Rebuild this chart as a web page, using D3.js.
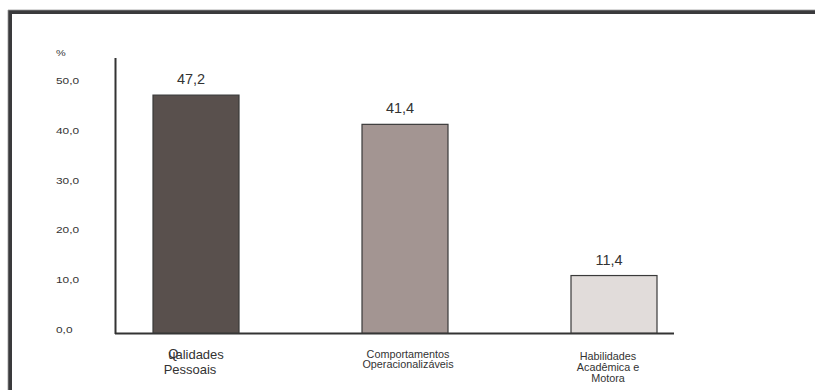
<!DOCTYPE html>
<html><head><meta charset="utf-8">
<script src="https://cdn.jsdelivr.net/npm/d3@7/dist/d3.min.js"></script>
<style>html,body{margin:0;padding:0;background:#fff;}svg{display:block;}</style>
</head><body>
<script>
const categories = ["Qualidades Pessoais", "Comportamentos Operacionalizáveis", "Habilidades Acadêmica e Motora"];
const categoryLines = [["Qualidades", "Pessoais"], ["Comportamentos", "Operacionalizáveis"], ["Habilidades", "Acadêmica e", "Motora"]];
const values = [47.2, 41.4, 11.4];
const valueLabels = ["47,2", "41,4", "11,4"];
const tickValues = [0, 10, 20, 30, 40, 50];
const tickLabels = ["0,0", "10,0", "20,0", "30,0", "40,0", "50,0"];
const barColors = ["#59504d", "#a39592", "#e1dcda"];

const W = 815, H = 390;
const ff = "Liberation Sans, Arial, sans-serif";
const svg = d3.select("body").append("svg").attr("width", W).attr("height", H);
svg.append("rect").attr("width", W).attr("height", H).attr("fill", "#fff");

// frame
svg.append("path").attr("d", "M10,390 V12 H815").attr("fill", "none").attr("stroke", "#3a3a3c").attr("stroke-width", 4);
svg.append("path").attr("d", "M8,390 V10 H815").attr("fill", "none").attr("stroke", "#9a9a9a").attr("stroke-width", 0.8);

const x = d3.scalePoint().domain(categories).range([196, 614]);
const y = d3.scaleLinear().domain([0, 50]).range([333, 81]);
const barW = 86;

// axes lines
svg.append("line").attr("x1", 115.5).attr("x2", 115.5).attr("y1", 58).attr("y2", y(0) + 1).attr("stroke", "#333").attr("stroke-width", 2);
svg.append("line").attr("x1", 115).attr("x2", 674).attr("y1", y(0) + 0.5).attr("y2", y(0) + 0.5).attr("stroke", "#333").attr("stroke-width", 2);

// tick labels
svg.selectAll("text.tick").data(tickValues).join("text")
  .attr("class", "tick")
  .attr("transform", d => `translate(56,${y(d) + 3 - 3 * (1 - d / 50)}) scale(1.25,1)`)
  .attr("font-family", ff)
  .attr("font-size", 9.5)
  .attr("fill", "#333")
  .text((d, i) => tickLabels[i]);
svg.append("text").attr("transform", "translate(56,56) scale(1.15,1)").attr("font-family", ff)
  .attr("font-size", 9.5).attr("fill", "#333").text("%");

// bars
svg.selectAll("rect.bar").data(values).join("rect")
  .attr("class", "bar")
  .attr("x", (d, i) => x(categories[i]) - barW / 2)
  .attr("width", barW)
  .attr("y", d => y(d))
  .attr("height", d => y(0) - y(d))
  .attr("fill", (d, i) => barColors[i])
  .attr("stroke", "#3a3a3a").attr("stroke-width", 1.2);

// value labels
svg.selectAll("text.val").data(values).join("text")
  .attr("class", "val")
  .attr("x", (d, i) => x(categories[i]) - 5)
  .attr("y", d => y(d) - 11)
  .attr("text-anchor", "middle")
  .attr("font-family", ff)
  .attr("font-size", 14.5).attr("fill", "#333")
  .text((d, i) => valueLabels[i]);

// category labels
// first category (with overlapping glyphs as in the original)
{
  const cx = x(categories[0]);
  const first = categoryLines[0][0];
  const rest = svg.append("text").attr("x", cx).attr("y", 359).attr("text-anchor", "middle")
    .attr("font-family", ff).attr("font-size", 13).attr("fill", "#333").text(first.slice(1));
  const bb = rest.node().getBBox();
  svg.append("text").attr("x", bb.x).attr("y", 358).attr("font-family", ff).attr("font-size", 13)
    .attr("fill", "#333").text(first[0]);
  svg.append("text").attr("x", cx - 6).attr("y", 374).attr("text-anchor", "middle")
    .attr("font-family", ff).attr("font-size", 13).attr("fill", "#333").text(categoryLines[0][1]);
}
// other categories
const catOpts = [null, {dx: 3, y0: 358, lh: 10, fs: 10.8}, {dx: -6, y0: 360, lh: 11, fs: 10.8}];
[1, 2].forEach(i => {
  const o = catOpts[i];
  svg.append("g").selectAll("text").data(categoryLines[i]).join("text")
    .attr("x", x(categories[i]) + o.dx)
    .attr("y", (d, j) => o.y0 + j * o.lh)
    .attr("text-anchor", "middle")
    .attr("font-family", ff).attr("font-size", o.fs).attr("fill", "#333")
    .text(d => d);
});
</script>
</body></html>
